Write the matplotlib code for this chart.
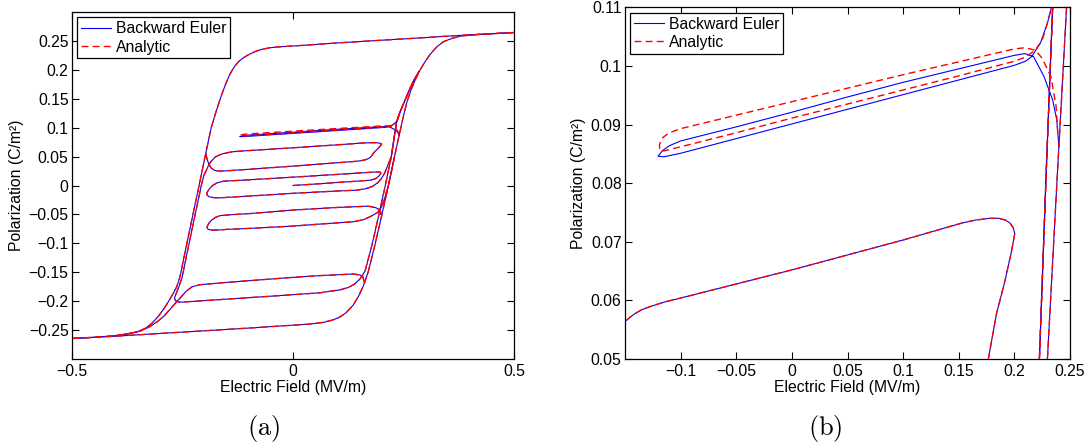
import matplotlib
matplotlib.use("Agg")
import matplotlib.pyplot as plt
from matplotlib.lines import Line2D

plt.rcParams['font.family'] = ['Liberation Sans', 'DejaVu Sans']
plt.rcParams['mathtext.fontset'] = 'cm'

# ---------------- data (E in MV/m, P in C/m^2) ----------------
# major loop, descending branch
maj_dn_E = [0.50, 0.45, 0.40, 0.35, 0.30, 0.20, 0.10, 0.016, -0.03, -0.045, -0.055, -0.07, -0.085, -0.10,
            -0.113, -0.124, -0.134, -0.143, -0.151, -0.158, -0.165, -0.174, -0.185, -0.197, -0.2125, -0.2277,
            -0.2428, -0.2557, -0.263, -0.272, -0.282, -0.292, -0.304, -0.318, -0.333, -0.35, -0.375, -0.40,
            -0.45, -0.50]
maj_dn_P = [0.2645, 0.2625, 0.2605, 0.2583, 0.2558, 0.2512, 0.2465, 0.242, 0.2398, 0.2388, 0.2378, 0.2355,
            0.2318, 0.2265, 0.2205, 0.2135, 0.204, 0.192, 0.178, 0.164, 0.149, 0.128, 0.100, 0.057, 0.0,
            -0.055, -0.110, -0.158, -0.175, -0.188, -0.201, -0.213, -0.2255, -0.2375, -0.2465, -0.2525,
            -0.2565, -0.2595, -0.2625, -0.2645]

# major loop, ascending branch
maj_up_E = [-0.50, -0.45, -0.40, -0.30, -0.20, -0.10, 0.0, 0.04, 0.07, 0.09, 0.106, 0.12, 0.136, 0.148,
            0.159, 0.17, 0.185, 0.20, 0.215, 0.2297, 0.239, 0.244, 0.2469, 0.252, 0.258, 0.266, 0.275,
            0.285, 0.297, 0.31, 0.325, 0.34, 0.36, 0.38, 0.42, 0.50]
maj_up_P = [-0.2645, -0.2625, -0.2605, -0.2558, -0.2512, -0.2465, -0.2415, -0.2395, -0.2365, -0.2325, -0.2275,
            -0.220, -0.207, -0.192, -0.174, -0.150, -0.104, -0.054, -0.003, 0.05, 0.0828, 0.0999, 0.11,
            0.127, 0.145, 0.163, 0.18, 0.1965, 0.212, 0.2265, 0.2395, 0.2485, 0.2545, 0.2585, 0.2612, 0.2645]

# upper minor loop -> steep descent -> lower minor loop lower edge -> steep rise
top_E = [-0.1974, -0.1945, -0.1905, -0.185, -0.177, -0.165, -0.10, 0.0, 0.106, 0.144, 0.156, 0.165, 0.1715,
         0.1766, 0.184, 0.191, 0.197, 0.1995, 0.2003, 0.199, 0.196, 0.192, 0.186, 0.178, 0.165, 0.153, 0.10,
         0.0, -0.10, -0.115, -0.128, -0.135, -0.1406, -0.145, -0.15, -0.155, -0.16, -0.165, -0.17, -0.175,
         -0.179, -0.186, -0.1915, -0.196, -0.2015, -0.2075, -0.2227, -0.2378, -0.2507, -0.258,
         -0.264, -0.268, -0.266, -0.260, -0.250, -0.233, -0.12, 0.0, 0.061, 0.106, 0.125, 0.14, 0.151,
         0.158, 0.163, 0.178, 0.193, 0.208, 0.2225, 0.2288, 0.2344, 0.242, 0.252, 0.262, 0.272, 0.285]
top_P = [0.056, 0.046, 0.037, 0.030, 0.026, 0.0247, 0.028, 0.0335, 0.0397, 0.0419, 0.0432, 0.0448, 0.0468,
         0.050, 0.0578, 0.0629, 0.068, 0.0705, 0.0714, 0.0724, 0.0732, 0.0737, 0.0740, 0.0740, 0.0737,
         0.0732, 0.0703, 0.0652, 0.0604, 0.0597, 0.0589, 0.0584, 0.0578, 0.0572, 0.0564, 0.0556, 0.0546,
         0.0532, 0.0515, 0.0495, 0.047, 0.041, 0.034, 0.026, 0.018, 0.0, -0.055, -0.110, -0.158, -0.175,
         -0.186, -0.194, -0.199, -0.2012, -0.2017, -0.2007, -0.195, -0.1888, -0.1855, -0.1805, -0.1765,
         -0.170, -0.162, -0.154, -0.148, -0.105, -0.055, -0.003, 0.05, 0.0828, 0.11, 0.127, 0.145, 0.163,
         0.18, 0.197]

# upper edge of lower minor loop
low_E = [0.162, 0.158, 0.1516, 0.1364, 0.061, 0.0, -0.0973, -0.15, -0.21, -0.228, -0.242, -0.2535, -0.263,
         -0.278, -0.293, -0.308, -0.3235, -0.345, -0.369, -0.40]
low_P = [-0.168, -0.158, -0.1547, -0.153, -0.1558, -0.1588, -0.1645, -0.1675, -0.1715, -0.175, -0.183,
         -0.193, -0.2007, -0.214, -0.2266, -0.236, -0.2438, -0.2515, -0.256, -0.2595]

# start at origin and middle minor loop
mid_E = [0.0, 0.05, 0.10, 0.15, 0.174, 0.186, 0.194, 0.199, 0.197, 0.189, 0.10, 0.0, -0.10, -0.158, -0.172,
         -0.182, -0.19, -0.1948, -0.1945, -0.19, -0.18, -0.165, -0.10, 0.0, 0.10, 0.144, 0.165, 0.18, 0.192,
         0.20, 0.207, 0.213, 0.2225, 0.2288, 0.2344, 0.242, 0.252, 0.262, 0.272, 0.285]
mid_P = [0.0, 0.0025, 0.0052, 0.0078, 0.0091, 0.0115, 0.016, 0.021, 0.0232, 0.0235, 0.0192, 0.0144, 0.0098,
         0.0074, 0.0045, 0.0, -0.0065, -0.0125, -0.0165, -0.0195, -0.0210, -0.0213, -0.0183, -0.0135,
         -0.0095, -0.0081, -0.0055, -0.0015, 0.005, 0.012, 0.021, 0.032, 0.05, 0.0828, 0.11, 0.127, 0.145,
         0.163, 0.18, 0.197]

# minor loop around -0.05
neg_E = [0.199, 0.1985, 0.195, 0.188, 0.175, 0.1667, 0.10, 0.061, 0.0, -0.0973, -0.14, -0.165, -0.176,
         -0.185, -0.191, -0.1948, -0.192, -0.184, -0.165, -0.15, -0.0973, 0.0, 0.061, 0.1364, 0.16, 0.174,
         0.186, 0.193, 0.20, 0.206, 0.212, 0.215, 0.2297]
neg_P = [-0.050, -0.046, -0.042, -0.0385, -0.0363, -0.0358, -0.038, -0.0397, -0.0425, -0.0485, -0.0505,
         -0.0522, -0.0553, -0.0605, -0.066, -0.0722, -0.0758, -0.0771, -0.0768, -0.0759, -0.0741, -0.0702,
         -0.0667, -0.0627, -0.059, -0.0541, -0.049, -0.0455, -0.037, -0.026, -0.010, -0.003, 0.05]

# thin loop near P = 0.09 (Backward Euler)
thin_be_E = [0.2400, 0.2381, 0.2344, 0.2266, 0.2172, 0.2094, 0.200, 0.15, 0.10, 0.05, 0.0, -0.05, -0.10,
             -0.110, -0.116, -0.1203, -0.115, -0.10, -0.05, 0.0, 0.05, 0.10, 0.15, 0.20, 0.210, 0.2156,
             0.2234, 0.2297, 0.2328, 0.2365, 0.242]
thin_be_P = [0.0862, 0.0908, 0.0942, 0.0982, 0.1016, 0.1021, 0.1018, 0.0995, 0.0972, 0.0947, 0.0921,
             0.0896, 0.0872, 0.0864, 0.0856, 0.0846, 0.0845, 0.0851, 0.0876, 0.0901, 0.0926, 0.0951, 0.0976,
             0.1001, 0.1008, 0.1016, 0.1039, 0.1073, 0.1096, 0.1135, 0.127]

# thin loop near P = 0.09 (Analytic)
thin_an_E = [0.2390, 0.2375, 0.2328, 0.2250, 0.2188, 0.2094, 0.200, 0.15, 0.10, 0.05, 0.0, -0.05, -0.10,
             -0.110, -0.116, -0.1190, -0.1188, -0.115, -0.10, -0.05, 0.0, 0.05, 0.10, 0.15, 0.20, 0.210,
             0.2188, 0.2250, 0.2297, 0.2328, 0.2365, 0.242]
thin_an_P = [0.0885, 0.0931, 0.0982, 0.1013, 0.1027, 0.1031, 0.1029, 0.1007, 0.0985, 0.0962, 0.0939,
             0.0916, 0.0893, 0.0886, 0.0878, 0.0866, 0.0856, 0.0855, 0.0862, 0.0886, 0.0911, 0.0935, 0.0959,
             0.0983, 0.1008, 0.1015, 0.1027, 0.1044, 0.1073, 0.1096, 0.1135, 0.127]

be_curves = [(maj_dn_E, maj_dn_P), (maj_up_E, maj_up_P), (top_E, top_P), (low_E, low_P),
             (mid_E, mid_P), (neg_E, neg_P), (thin_be_E, thin_be_P)]
an_curves = [(maj_dn_E, maj_dn_P), (maj_up_E, maj_up_P), (top_E, top_P), (low_E, low_P),
             (mid_E, mid_P), (neg_E, neg_P), (thin_an_E, thin_an_P)]

labels = ['Backward Euler', 'Analytic']

xt_a = [-0.5, 0, 0.5]
xtl_a = ['\u22120.5', '0', '0.5']
yt_a = [-0.25, -0.2, -0.15, -0.1, -0.05, 0, 0.05, 0.1, 0.15, 0.2, 0.25]
ytl_a = ['\u22120.25', '\u22120.2', '\u22120.15', '\u22120.1', '\u22120.05', '0', '0.05', '0.1', '0.15', '0.2', '0.25']
xt_b = [-0.1, -0.05, 0, 0.05, 0.1, 0.15, 0.2, 0.25]
xtl_b = ['\u22120.1', '\u22120.05', '0', '0.05', '0.1', '0.15', '0.2', '0.25']
yt_b = [0.05, 0.06, 0.07, 0.08, 0.09, 0.1, 0.11]
ytl_b = ['0.05', '0.06', '0.07', '0.08', '0.09', '0.1', '0.11']

# ---------------- figure ----------------
W, H = 1090, 446
fig = plt.figure(figsize=(W / 100, H / 100), dpi=100)
ax1 = fig.add_axes([72 / W, (H - 359) / H, (514 - 72) / W, (359 - 12) / H])
ax2 = fig.add_axes([625 / W, (H - 359) / H, (1070 - 625) / W, (359 - 7.3) / H])

FS = 11.3
for ax in (ax1, ax2):
    for E, P in be_curves:
        ax.plot(E, P, color='#0000ff', lw=0.8, solid_joinstyle='round')
    for E, P in an_curves:
        ax.plot(E, P, color='#ff0000', lw=1.0, ls=(0, (5, 3)))
    ax.tick_params(direction='in', length=5, width=0.8, top=True, right=True, labelsize=FS)
    ax.tick_params(axis='x', pad=3.5)
    ax.tick_params(axis='y', pad=2.5)
    for s in ax.spines.values():
        s.set_linewidth(0.9)
    ax.set_xlabel('Electric Field (MV/m)', fontsize=FS, labelpad=1)
    ax.set_ylabel('Polarization (C/m\u00b2)', fontsize=FS, labelpad=3)
    handles = [Line2D([], [], color='#0000ff', lw=0.8),
               Line2D([], [], color='#ff0000', lw=1.0, ls=(0, (5, 3)))]
    leg = ax.legend(handles, labels, loc='upper left', fontsize=FS, fancybox=False, framealpha=1,
                    edgecolor='black', borderaxespad=0.35, handlelength=1.9, handletextpad=0.3,
                    labelspacing=0.2, borderpad=0.25)
    leg.get_frame().set_linewidth(0.9)

ax1.set_xlim(-0.5, 0.5)
ax1.set_ylim(-0.3, 0.3)
ax1.set_xticks(xt_a, xtl_a)
ax1.set_yticks(yt_a, ytl_a)

ax2.set_xlim(-0.15, 0.25)
ax2.set_ylim(0.05, 0.11)
ax2.set_xticks(xt_b, xtl_b)
ax2.set_yticks(yt_b, ytl_b)

fig.text(264 / W, 1 - 428 / H, r'$\mathrm{(a)}$', ha='center', va='center', fontsize=19)
fig.text(825 / W, 1 - 428 / H, r'$\mathrm{(b)}$', ha='center', va='center', fontsize=19)

fig.savefig('out.png', dpi=100)
